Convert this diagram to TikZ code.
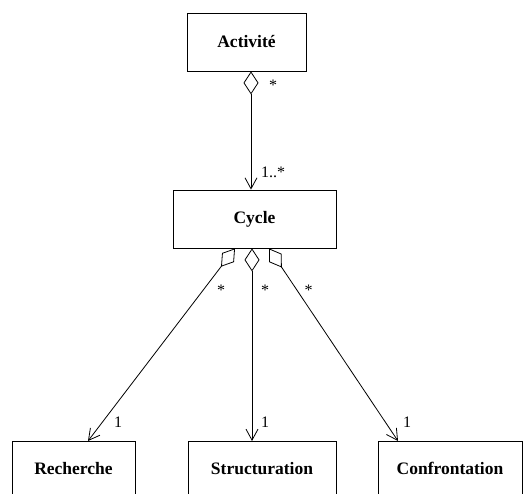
\documentclass[tikz,border=0pt]{standalone}
\usepackage{fontspec}
\setmainfont{Liberation Serif}
\usetikzlibrary{
  arrows.meta
}
\tikzset{
  classbox/.style={draw, line width=0.8pt, inner sep=0pt, minimum height=58pt,
    font=\fontsize{17.5}{20}\selectfont\bfseries},
  aggr/.style={line width=0.8pt,
    {Diamond[open,length=23pt,width=15pt]}-{Straight Barb[length=11pt,width=12pt]}},
  mult/.style={inner sep=0pt, anchor=base, font=\fontsize{16}{18}\selectfont}
}

\begin{document}
\begin{tikzpicture}[x=1pt,y=-1pt]
  \def\Ybot{441};
  \def\Ystar{296};
  \def\Yone{428};
        \useasboundingbox (0,0) rectangle (523,494);
        \clip (0,0) rectangle (523,494);

        \node[classbox, minimum width=119pt] (act) at (246.5, 42) {Activité};
        \node[classbox, minimum width=163pt] (cyc) at (254.5, 219) {Cycle};

        \node[classbox, minimum width=123pt, minimum height=54pt, anchor=north] (rec) at (73.5, \Ybot) {Recherche};
        \node[classbox, minimum width=148pt, minimum height=54pt, anchor=north] (str) at (262, \Ybot) {Structuration};
        \node[classbox, minimum width=144pt, minimum height=54pt, anchor=north] (con) at (450, \Ybot) {Confrontation};

	\draw[aggr] ([xshift=-3.5pt]cyc.north |- act.south) -- ([xshift=-3.5pt]cyc.north);

	\draw[aggr] ([xshift=-19.5pt]cyc.south) -- ([xshift=14.5pt]rec.north);
	\draw[aggr] ([xshift=-2.5pt]cyc.south) -- ([xshift=-10pt]str.north);
	\draw[aggr] ([xshift=14.5pt]cyc.south) -- ([xshift=-52pt]con.north);

        \node[mult] (m1) at (273, 90.5) {*};
        \node[mult] (m2) at (273, 178) {1..*};

        \node[mult] (m3) at (221, \Ystar) {*};
        \node[mult] (m4) at (265, \Ystar) {*};
        \node[mult] (m5) at (308.5, \Ystar) {*};

        \node[mult] (m6) at (118, \Yone) {1};
        \node[mult] (m7) at (265, \Yone) {1};
        \node[mult] (m8) at (407, \Yone) {1};

\end{tikzpicture}
\end{document}
